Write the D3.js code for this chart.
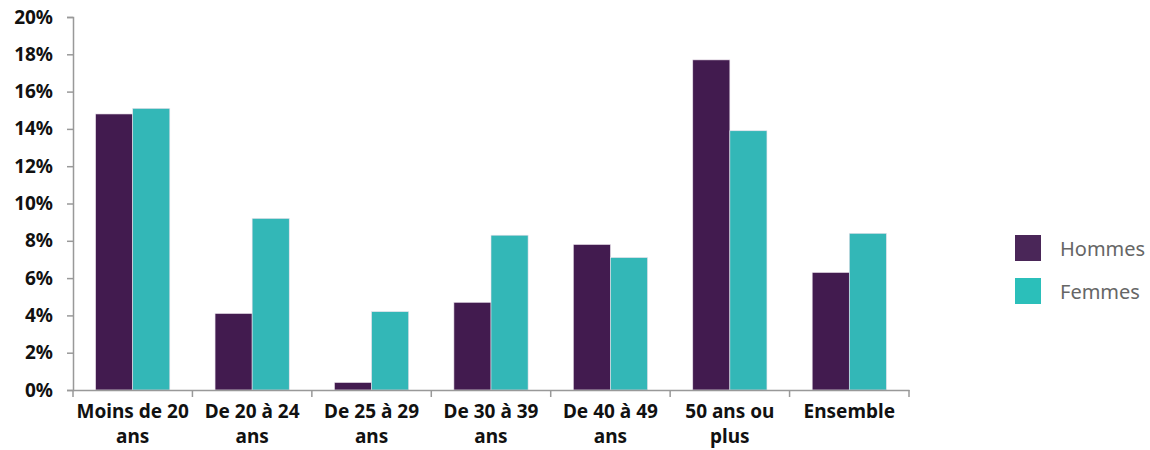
<!DOCTYPE html>
<html>
<head>
<meta charset="utf-8">
<script src="https://cdn.jsdelivr.net/npm/d3@7"></script>
<style>
  body { margin: 0; background: #fff; }
  svg text { font-family: "Noto Sans", "Open Sans", sans-serif; }
</style>
</head>
<body>
<div id="chart"></div>
<script>
const categories = ["Moins de 20 ans", "De 20 à 24 ans", "De 25 à 29 ans", "De 30 à 39 ans", "De 40 à 49 ans", "50 ans ou plus", "Ensemble"]
const seriesNames = ["Hommes", "Femmes"]
const hommes = [14.8, 4.1, 0.4, 4.7, 7.8, 17.7, 6.3]
const femmes = [15.1, 9.2, 4.2, 8.3, 7.1, 13.9, 8.4]
const yTicks = [0, 2, 4, 6, 8, 10, 12, 14, 16, 18, 20]

const width = 1150, height = 450
const margin = {top: 17, right: 241, bottom: 60, left: 73}

const svg = d3.select("#chart").append("svg")
    .attr("width", width)
    .attr("height", height)

const x = d3.scaleBand()
    .domain(categories)
    .range([margin.left, width - margin.right])
    .padding(0)

const xs = d3.scaleBand()
    .domain(seriesNames)
    .range([0, x.bandwidth()])
    .paddingInner(0)
    .paddingOuter(0.61)

const y = d3.scaleLinear()
    .domain([0, 20])
    .range([height - margin.bottom, margin.top])

const colors = {Hommes: "#421b4f", Femmes: "#33b7b7"}
const legendColors = {Hommes: "#4a2658", Femmes: "#2bbfba"}

const rows = categories.map(function(c, i){
    return {cat: c, values: [{k: "Hommes", v: hommes[i]}, {k: "Femmes", v: femmes[i]}]}
})

// bars
svg.append("g")
    .selectAll("g")
    .data(rows)
    .enter()
    .append("g")
    .attr("transform", function(d){ return "translate(" + x(d.cat) + ",0)" })
    .selectAll("rect")
    .data(function(d){ return d.values })
    .enter()
    .append("rect")
    .attr("x", function(d){ return xs(d.k) })
    .attr("y", function(d){ return y(d.v) })
    .attr("width", xs.bandwidth())
    .attr("height", function(d){ return y(0) - y(d.v) })
    .attr("fill", function(d){ return colors[d.k] })
    .attr("stroke", "#e8e0ea")
    .attr("stroke-width", 0.6)

// y axis
const yAxis = svg.append("g")
    .attr("transform", "translate(" + margin.left + ",0)")
    .call(d3.axisLeft(y).tickValues(yTicks).tickFormat(function(d){ return d + "%" }).tickSize(6).tickPadding(14))
yAxis.selectAll("path, line").attr("stroke", "#999").attr("stroke-width", 1.5)
yAxis.selectAll("text")
    .attr("fill", "#111")
    .style("font-size", "19px")
    .style("font-weight", "bold")

// x axis
const xAxis = svg.append("g")
    .attr("transform", "translate(0," + y(0) + ")")
    .call(d3.axisBottom(x).tickSize(0).tickFormat(""))
xAxis.selectAll("path").attr("stroke", "#999").attr("stroke-width", 1.5)

// category separators
svg.append("g")
    .selectAll("line")
    .data(categories.concat(["end"]))
    .enter()
    .append("line")
    .attr("x1", function(d, i){ return i < categories.length ? x(d) : x.range()[1] })
    .attr("x2", function(d, i){ return i < categories.length ? x(d) : x.range()[1] })
    .attr("y1", y(0))
    .attr("y2", y(0) + 7)
    .attr("stroke", "#999")
    .attr("stroke-width", 1.5)

// category labels, wrapped
function wrapLines(text, maxW){
    const words = text.split(" ")
    const tmp = svg.append("text").style("font-size", "19px").style("font-weight", "bold")
    const lines = []
    let line = []
    words.forEach(function(w){
        line.push(w)
        tmp.text(line.join(" "))
        if (tmp.node().getComputedTextLength() > maxW && line.length > 1){
            line.pop()
            lines.push(line.join(" "))
            line = [w]
        }
    })
    lines.push(line.join(" "))
    tmp.remove()
    return lines
}

const labels = svg.append("g")
    .selectAll("text")
    .data(categories)
    .enter()
    .append("text")
    .attr("text-anchor", "middle")
    .attr("fill", "#111")
    .style("font-size", "19px")
    .style("font-weight", "bold")
labels.each(function(d){
    const lines = wrapLines(d, 117)
    d3.select(this).selectAll("tspan")
        .data(lines)
        .enter()
        .append("tspan")
        .attr("x", x(d) + x.bandwidth() / 2)
        .attr("y", function(l, i){ return y(0) + 28 + i * 25 })
        .text(function(l){ return l })
})

// legend
const legend = svg.append("g")
    .selectAll("g")
    .data(seriesNames)
    .enter()
    .append("g")
    .attr("transform", function(d, i){ return "translate(1015," + (235 + i * 43) + ")" })
legend.append("rect")
    .attr("width", 26)
    .attr("height", 26)
    .attr("fill", function(d){ return legendColors[d] })
legend.append("text")
    .attr("x", 45)
    .attr("y", 21)
    .attr("fill", "#666")
    .style("font-size", "20px")
    .text(function(d){ return d })
</script>
</body>
</html>
